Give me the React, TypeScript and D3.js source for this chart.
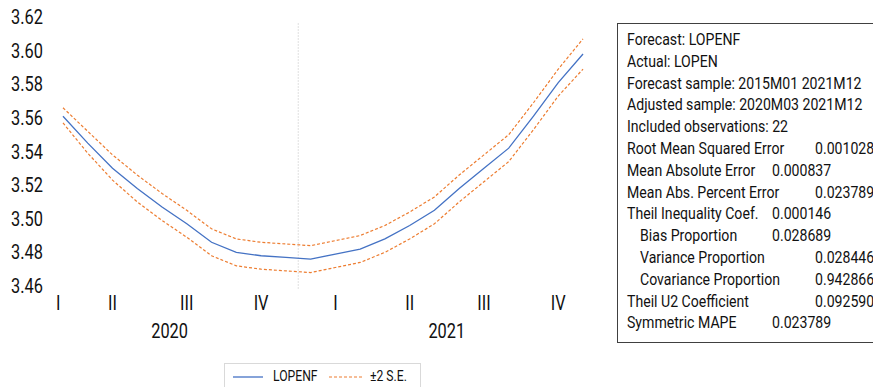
import * as d3 from "d3"
import type { ReactNode } from "react"

// months 2020M03 .. 2021M12 (22 obs)
const months = [
  "2020M03", "2020M04", "2020M05", "2020M06", "2020M07", "2020M08", "2020M09", "2020M10", "2020M11", "2020M12",
  "2021M01", "2021M02", "2021M03", "2021M04", "2021M05", "2021M06", "2021M07", "2021M08", "2021M09", "2021M10", "2021M11", "2021M12",
]
const lopenf = [3.561, 3.545, 3.530, 3.518, 3.507, 3.497, 3.486, 3.480, 3.478, 3.477, 3.476, 3.479, 3.482, 3.488, 3.496, 3.505, 3.518, 3.530, 3.542, 3.561, 3.581, 3.598]
const upper = [3.566, 3.552, 3.538, 3.526, 3.515, 3.505, 3.494, 3.488, 3.486, 3.485, 3.484, 3.487, 3.490, 3.496, 3.504, 3.513, 3.526, 3.538, 3.550, 3.569, 3.589, 3.607]
const lower = [3.557, 3.539, 3.523, 3.510, 3.499, 3.489, 3.478, 3.472, 3.470, 3.469, 3.468, 3.471, 3.474, 3.480, 3.488, 3.497, 3.510, 3.522, 3.534, 3.553, 3.573, 3.589]
const yTicks = [3.46, 3.48, 3.50, 3.52, 3.54, 3.56, 3.58, 3.60, 3.62]
const quarterNames = ["I", "II", "III", "IV"]
const years = ["2020", "2021"]

const statRows: [string, string, number][] = [
  ["Forecast: LOPENF", "", 0],
  ["Actual: LOPEN", "", 0],
  ["Forecast sample: 2015M01 2021M12", "", 0],
  ["Adjusted sample: 2020M03 2021M12", "", 0],
  ["Included observations: 22", "", 0],
  ["Root Mean Squared Error", "0.001028", 2],
  ["Mean Absolute Error", "0.000837", 1],
  ["Mean Abs. Percent Error", "0.023789", 2],
  ["Theil Inequality Coef.", "0.000146", 1],
  ["   Bias Proportion", "0.028689", 1],
  ["   Variance Proportion", "0.028446", 2],
  ["   Covariance Proportion", "0.942866", 2],
  ["Theil U2 Coefficient", "0.092590", 2],
  ["Symmetric MAPE", "0.023789", 1],
]

const FONT = "Roboto, sans-serif"
const SX = 0.84 // squeeze roboto to look like the narrow original font

// condensed text, anchored at (x, y)
function CText({ x, y, size, anchor = "start", children }: { x: number; y: number; size: number; anchor?: string; children: ReactNode }) {
  return (
    <text transform={`translate(${x},${y}) scale(${SX},1)`} dy="0.36em" textAnchor={anchor} fontSize={size} fill="#111">
      {children}
    </text>
  )
}

export default function App() {
  const width = 873
  const height = 387
  const axisLeft = 41

  const x = d3.scaleLinear().domain([0, months.length]).range([50.6, 595.4])
  const y = d3.scaleLinear().domain([3.46, 3.62]).range([286, 17])

  const line = d3.line<number>()
    .x((_, i) => x(i + 0.5))
    .y(d => y(d))

  // quarters: group month indices by year + quarter
  const groups = d3.groups(months.map((m, i) => ({ m, i })), d => d.m.slice(0, 4), d => Math.floor((+d.m.slice(5) - 1) / 3))
  const edge = (i: number) => (i === 0 ? axisLeft : x(i))

  const quarterLabels: { label: string; pos: number }[] = []
  const yearLabels: { label: string; pos: number }[] = []
  groups.forEach(([yr, qs]) => {
    const all = qs.flatMap(q => q[1])
    const s = all[0].i
    const e = all[all.length - 1].i + 1
    yearLabels.push({ label: yr, pos: (edge(s) + x(e)) / 2 })
    qs.forEach(([q, items]) => {
      const a = items[0].i
      const b = items[items.length - 1].i + 1
      quarterLabels.push({ label: quarterNames[q], pos: (edge(a) + x(b)) / 2 })
    })
  })
  const yearBreak = x(months.indexOf(years[1] + "M01"))

  const rowY = d3.scaleLinear().domain([0, 1]).range([39, 60.8])
  const colX = [627, 772, 815]

  return (
    <svg width={width} height={height} style={{ position: "absolute", left: 0, top: 0, background: "#fff" }} fontFamily={FONT}>
      {/* year divider */}
      <line x1={yearBreak} x2={yearBreak} y1={23} y2={289} stroke="#e0e0e0" strokeWidth={1} strokeDasharray="2,1" />

      {/* y labels */}
      {yTicks.map(t => (
        <CText key={t} x={43} y={y(t)} size={19.5} anchor="end">{t.toFixed(2)}</CText>
      ))}

      {/* x labels */}
      {quarterLabels.map((q, i) => (
        <CText key={i} x={q.pos} y={303} size={19.5} anchor="middle">{q.label}</CText>
      ))}
      {yearLabels.map(yl => (
        <CText key={yl.label} x={yl.pos} y={331} size={19.5} anchor="middle">{yl.label}</CText>
      ))}

      {/* bands + forecast */}
      <path d={line(upper)!} fill="none" stroke="#ED7D31" strokeWidth={1.2} strokeDasharray="3,2" />
      <path d={line(lower)!} fill="none" stroke="#ED7D31" strokeWidth={1.2} strokeDasharray="3,2" />
      <path d={line(lopenf)!} fill="none" stroke="#4472C4" strokeWidth={1.3} />

      {/* legend */}
      <rect x={224.5} y={363.5} width={196} height={40} fill="#fff" stroke="#d9d9d9" />
      <line x1={233} x2={263} y1={377} y2={377} stroke="#4472C4" strokeWidth={1.3} />
      <CText x={273} y={376} size={14.5}>LOPENF</CText>
      <line x1={329} x2={362} y1={377} y2={377} stroke="#ED7D31" strokeWidth={1.2} strokeDasharray="3,2" />
      <CText x={370} y={376} size={14.5}>±2 S.E.</CText>

      {/* stats box */}
      <rect x={617.5} y={23.5} width={300} height={319} fill="#fff" stroke="#404040" />
      {statRows.map(([label, val, col], i) => (
        <g key={i}>
          <CText x={colX[0] + (label.startsWith(" ") ? 13 : 0)} y={rowY(i)} size={16.8}>{label.trim()}</CText>
          {val && <CText x={colX[col]} y={rowY(i)} size={16.8}>{val}</CText>}
        </g>
      ))}
    </svg>
  )
}
